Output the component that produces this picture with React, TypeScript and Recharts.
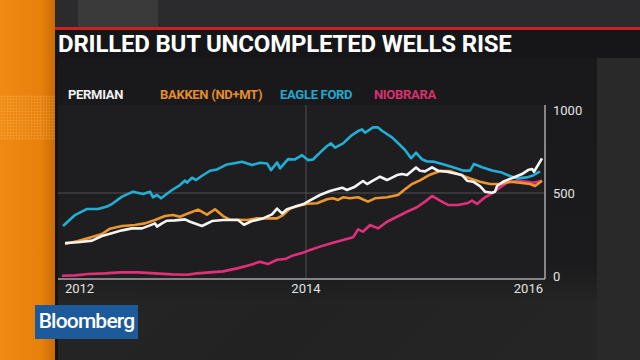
import { LineChart, Line, XAxis, YAxis, ReferenceLine, CartesianGrid } from 'recharts';

// dates are decimal years, values are number of drilled-but-uncompleted wells
const permianDates = [2011.984, 2012.092, 2012.21, 2012.293, 2012.36, 2012.461, 2012.544, 2012.628, 2012.695, 2012.737, 2012.753, 2012.795, 2012.837, 2012.904, 2012.988, 2013.03, 2013.13, 2013.214, 2013.306, 2013.431, 2013.481, 2013.548, 2013.64, 2013.716, 2013.758, 2013.799, 2013.841, 2013.908, 2013.975, 2014.034, 2014.117, 2014.201, 2014.302, 2014.343, 2014.41, 2014.477, 2014.511, 2014.553, 2014.62, 2014.678, 2014.762, 2014.804, 2014.845, 2014.921, 2014.954, 2014.996, 2015.055, 2015.105, 2015.18, 2015.247, 2015.306, 2015.348, 2015.398, 2015.456, 2015.498, 2015.557, 2015.582, 2015.599, 2015.649, 2015.732, 2015.808, 2015.858, 2015.892, 2015.908, 2015.975];
const permianWells = [199, 203, 213, 241, 255, 275, 287, 287, 305, 317, 297, 317, 333, 335, 341, 327, 301, 331, 337, 337, 309, 331, 347, 371, 406, 377, 402, 418, 432, 456, 488, 512, 532, 518, 538, 572, 554, 572, 598, 578, 608, 614, 608, 654, 634, 630, 654, 634, 628, 618, 608, 574, 568, 542, 508, 502, 508, 542, 568, 592, 614, 638, 644, 628, 709];

const bakkenDates = [2011.984, 2012.092, 2012.21, 2012.293, 2012.36, 2012.461, 2012.569, 2012.653, 2012.737, 2012.82, 2012.887, 2012.946, 2013.013, 2013.097, 2013.172, 2013.239, 2013.306, 2013.364, 2013.507, 2013.59, 2013.682, 2013.758, 2013.808, 2013.866, 2013.933, 2014.009, 2014.092, 2014.176, 2014.226, 2014.268, 2014.31, 2014.368, 2014.436, 2014.519, 2014.578, 2014.678, 2014.77, 2014.829, 2014.887, 2014.954, 2015.038, 2015.122, 2015.205, 2015.272, 2015.373, 2015.456, 2015.54, 2015.624, 2015.707, 2015.791, 2015.875, 2015.917, 2015.975];
const bakkenWells = [193, 211, 235, 253, 285, 301, 307, 317, 337, 361, 367, 357, 377, 400, 370, 402, 361, 340, 337, 347, 347, 347, 367, 406, 422, 435, 438, 462, 468, 458, 474, 468, 474, 448, 468, 474, 488, 522, 554, 576, 610, 632, 632, 614, 588, 568, 554, 554, 568, 562, 554, 542, 574];

const eagleFordDates = [2011.967, 2012.067, 2012.168, 2012.26, 2012.335, 2012.385, 2012.461, 2012.553, 2012.636, 2012.695, 2012.72, 2012.753, 2012.787, 2012.879, 2012.946, 2012.988, 2013.005, 2013.046, 2013.08, 2013.13, 2013.197, 2013.256, 2013.339, 2013.389, 2013.465, 2013.548, 2013.615, 2013.674, 2013.707, 2013.758, 2013.783, 2013.85, 2013.908, 2013.967, 2014.017, 2014.059, 2014.117, 2014.176, 2014.21, 2014.243, 2014.31, 2014.385, 2014.436, 2014.469, 2014.494, 2014.561, 2014.603, 2014.636, 2014.72, 2014.787, 2014.829, 2014.879, 2014.921, 2014.971, 2015.013, 2015.063, 2015.147, 2015.23, 2015.314, 2015.373, 2015.406, 2015.473, 2015.557, 2015.64, 2015.707, 2015.766, 2015.85, 2015.9, 2015.958];
const eagleFordWells = [301, 367, 404, 404, 418, 438, 478, 508, 494, 508, 474, 488, 468, 518, 548, 575, 562, 592, 578, 604, 634, 642, 672, 678, 688, 668, 682, 678, 638, 684, 648, 704, 702, 728, 698, 702, 743, 783, 799, 773, 799, 849, 873, 883, 863, 895, 895, 875, 835, 789, 759, 709, 743, 703, 690, 689, 673, 655, 635, 635, 675, 655, 635, 623, 602, 588, 594, 606, 630];

const niobraraDates = [2011.958, 2012.067, 2012.176, 2012.318, 2012.444, 2012.594, 2012.737, 2012.879, 2013.005, 2013.088, 2013.197, 2013.306, 2013.423, 2013.532, 2013.615, 2013.682, 2013.758, 2013.825, 2013.892, 2013.967, 2014.034, 2014.117, 2014.226, 2014.31, 2014.394, 2014.436, 2014.477, 2014.536, 2014.603, 2014.678, 2014.762, 2014.845, 2014.929, 2014.996, 2015.055, 2015.122, 2015.189, 2015.272, 2015.348, 2015.389, 2015.431, 2015.498, 2015.565, 2015.624, 2015.682, 2015.766, 2015.85, 2015.9, 2015.942, 2015.975];
const niobraraWells = [2, 4, 12, 16, 22, 22, 16, 10, 8, 16, 22, 28, 46, 66, 86, 72, 98, 102, 124, 138, 157, 177, 201, 217, 233, 281, 267, 307, 287, 327, 357, 387, 414, 448, 482, 454, 428, 428, 438, 454, 434, 474, 502, 534, 562, 574, 568, 562, 568, 574];

const xTicks = [2012, 2014, 2016];
const yTicks = [0, 500, 1000];

const zip = (dates: number[], values: number[]) => dates.map((t, i) => ({ t, v: values[i] }));

// drawing order: last one ends up on top
const SERIES = [
  { name: 'NIOBRARA', color: '#e0307a', dates: niobraraDates, values: niobraraWells },
  { name: 'EAGLE FORD', color: '#21afd6', dates: eagleFordDates, values: eagleFordWells },
  { name: 'BAKKEN (ND+MT)', color: '#ec962e', dates: bakkenDates, values: bakkenWells },
  { name: 'PERMIAN', color: '#f4f4f4', dates: permianDates, values: permianWells },
];

const LEGEND = [
  { label: 'PERMIAN', color: '#f0f0f0', left: 68 },
  { label: 'BAKKEN (ND+MT)', color: '#e58c2c', left: 160 },
  { label: 'EAGLE FORD', color: '#22a7cf', left: 280 },
  { label: 'NIOBRARA', color: '#d93070', left: 374 },
];

const FONT = 'Roboto, "Noto Sans", sans-serif';

function XTick({ x, y, payload }: any) {
  const v = payload.value;
  const anchor = v === xTicks[0] ? 'start' : v === xTicks[xTicks.length - 1] ? 'end' : 'middle';
  const dx = anchor === 'middle' ? 0 : -2;
  return (
    <text x={x + dx} y={y} dy={14} textAnchor={anchor} fill="#e2e2e2" fontSize={13} fontFamily={FONT}>
      {v}
    </text>
  );
}

function YTick({ x, y, payload }: any) {
  return (
    <text x={x} y={y} dy={5} textAnchor="start" fill="#e2e2e2" fontSize={13} fontFamily={FONT}>
      {payload.value}
    </text>
  );
}

export default function App() {
  return (
    <div
      style={{
        position: 'absolute',
        left: 0,
        top: 0,
        width: 640,
        height: 360,
        overflow: 'hidden',
        background: 'linear-gradient(135deg, #2a2a2a 0%, #222 60%, #262626 100%)',
        fontFamily: FONT,
      }}
    >
      {/* top strip */}
      <div style={{ position: 'absolute', left: 55, top: 0, width: 585, height: 27, background: '#2b2b2d' }} />
      <div style={{ position: 'absolute', left: 78, top: 0, width: 80, height: 27, background: '#3a3a3b' }} />

      {/* orange side bar */}
      <div
        style={{
          position: 'absolute',
          left: 0,
          top: 0,
          width: 55,
          height: 360,
          background: 'linear-gradient(to right, #f08a12 0%, #e8800c 75%, #c86c06 100%)',
        }}
      />
      <div
        style={{
          position: 'absolute',
          left: 0,
          top: 95,
          width: 55,
          height: 45,
          backgroundImage: 'radial-gradient(rgba(255,200,110,0.22) 1px, transparent 1.2px)',
          backgroundSize: '3px 3px',
        }}
      />
      <div style={{ position: 'absolute', left: 55, top: 30, width: 3, height: 330, background: '#141414' }} />

      {/* red rule + title band */}
      <div style={{ position: 'absolute', left: 55, top: 27, width: 585, height: 3, background: '#c9221f' }} />
      <div style={{ position: 'absolute', left: 55, top: 30, width: 585, height: 28, background: '#161618' }} />
      <div
        style={{
          position: 'absolute',
          left: 58,
          top: 30,
          height: 28,
          lineHeight: '28px',
          color: '#fff',
          fontSize: 24,
          fontWeight: 700,
          letterSpacing: -0.2,
          whiteSpace: 'nowrap',
        }}
      >
        DRILLED BUT UNCOMPLETED WELLS RISE
      </div>

      {/* chart panel */}
      <div
        style={{
          position: 'absolute',
          left: 58,
          top: 58,
          width: 539,
          height: 245,
          background: 'linear-gradient(to bottom, #19191b 0%, #1b1b1d 85%, rgba(30,30,32,0) 100%)',
        }}
      />

      {/* legend */}
      {LEGEND.map((l) => (
        <div
          key={l.label}
          style={{
            position: 'absolute',
            left: l.left,
            top: 87,
            fontSize: 13,
            fontWeight: 700,
            letterSpacing: -0.3,
            color: l.color,
            whiteSpace: 'nowrap',
          }}
        >
          {l.label}
        </div>
      ))}

      <div style={{ position: 'absolute', left: 0, top: 0 }}>
        <LineChart width={640} height={360} margin={{ top: 105, right: 45, bottom: 51, left: 58 }}>
          <CartesianGrid horizontal={false} vertical={false} fill="#1e1e21" stroke="none" />
          <XAxis
            type="number"
            dataKey="t"
            domain={[2011.925, 2016]}
            ticks={xTicks}
            allowDataOverflow
            axisLine={{ stroke: '#a8a8a8', strokeWidth: 1.5 }}
            tickLine={false}
            tickSize={0}
            tickMargin={0}
            height={30}
            tick={<XTick />}
          />
          <YAxis
            orientation="right"
            type="number"
            domain={[-18, 1030]}
            ticks={yTicks}
            allowDataOverflow
            axisLine={{ stroke: '#a8a8a8', strokeWidth: 1.5 }}
            tickLine={false}
            tickSize={0}
            tickMargin={8}
            width={50}
            tick={<YTick />}
          />
          <ReferenceLine y={500} stroke="#505052" strokeWidth={1} />
          <ReferenceLine x={2014} stroke="#505052" strokeWidth={1} />
          {SERIES.map((s) => (
            <Line
              key={s.name}
              name={s.name}
              data={zip(s.dates, s.values)}
              dataKey="v"
              type="linear"
              stroke={s.color}
              strokeWidth={2.6}
              strokeLinejoin="round"
              dot={false}
              activeDot={false}
              isAnimationActive={false}
            />
          ))}
        </LineChart>
      </div>

      {/* logo */}
      <div
        style={{
          position: 'absolute',
          left: 35,
          top: 305,
          width: 103,
          height: 34,
          background: '#1d5a9b',
          color: '#fff',
          fontSize: 21,
          fontWeight: 500,
          letterSpacing: -0.8,
          lineHeight: '33px',
          textAlign: 'center',
        }}
      >
        Bloomberg
      </div>

      {/* right side lighter strip */}
      <div style={{ position: 'absolute', left: 597, top: 58, width: 43, height: 302, background: '#29292a' }} />
    </div>
  );
}
